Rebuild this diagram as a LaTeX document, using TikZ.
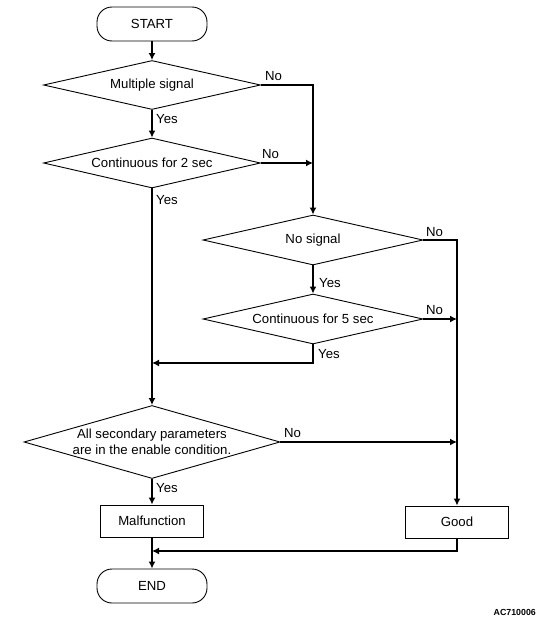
\documentclass[tikz,border=0pt]{standalone}
\usepackage{fontspec}
\setmainfont{Liberation Sans}
\usetikzlibrary{shapes.geometric,arrows.meta}
\begin{document}
\begin{tikzpicture}[x=1pt,y=-1pt,
  font=\fontsize{13.2}{16.5}\selectfont,
  term/.style={draw,line width=0.9pt,rounded corners=15pt,minimum width=110pt,minimum height=34pt,inner sep=0pt},
  dec/.style={draw,diamond,line width=0.9pt,inner sep=0pt,aspect=4.4,align=center},
  proc/.style={draw,line width=0.9pt,minimum width=103pt,minimum height=32pt,inner sep=0pt},
  arr/.style={line width=1.5pt,-{Latex[length=7pt,width=7pt]}},
  lab/.style={inner sep=0pt,anchor=base west}]
\useasboundingbox (0,0) rectangle (549,624);
\node[term] (start) at (152,24) {START};
\node[dec,minimum width=217pt,minimum height=49pt] (d1) at (152,85) {Multiple signal};
\node[dec,minimum width=217pt,minimum height=50pt] (d2) at (152,163) {Continuous for 2 sec};
\node[dec,minimum width=220pt,minimum height=50pt] (d3) at (313,240) {No signal};
\node[dec,minimum width=220pt,minimum height=50pt] (d4) at (313,319) {Continuous for 5 sec};
\node[dec,minimum width=256pt,minimum height=73pt,aspect=3.6,inner sep=-1pt] (d5) at (152,442) {All secondary parameters\\are in the enable condition.};
\node[proc] (mal) at (152,521) {Malfunction};
\node[proc] (good) at (457,522) {Good};
\node[term] (end) at (152,586) {END};
\node[font=\fontsize{8.8}{10}\selectfont\bfseries,anchor=east,inner sep=0pt] (code) at (536,612) {AC710006};
\coordinate (j1) at (152,363);
\coordinate (j2) at (152,551);
\draw[arr] (start) -- (d1);
\draw[arr] (d1) -- (d2);
\draw[arr] (d1.east) -| (d3.north);
\draw[arr] (d2.east) -- (d2.east -| d3.north);
\draw[arr] (d2) -- (d5);
\draw[arr] (d3) -- (d4);
\draw[arr] (d3.east) -| (good.north);
\draw[arr] (d4.east) -- (d4.east -| good.north);
\draw[arr] (d4.south) |- (j1);
\draw[arr] (d5.east) -- (d5.east -| good.north);
\draw[arr] (d5) -- (mal);
\draw[arr] (mal) -- (end);
\draw[arr] (good.south) |- (j2);
\node[lab] (n1) at (265,80.6) {No};
\node[lab] (y1) at (156,123.6) {Yes};
\node[lab] (n2) at (262,158.6) {No};
\node[lab] (y2) at (156,204.6) {Yes};
\node[lab] (n3) at (426,236.6) {No};
\node[lab] (y3) at (319,287.6) {Yes};
\node[lab] (n4) at (426,314.6) {No};
\node[lab] (y4) at (318,358.6) {Yes};
\node[lab] (n5) at (284,437.6) {No};
\node[lab] (y5) at (156,492.6) {Yes};
\end{tikzpicture}
\end{document}
